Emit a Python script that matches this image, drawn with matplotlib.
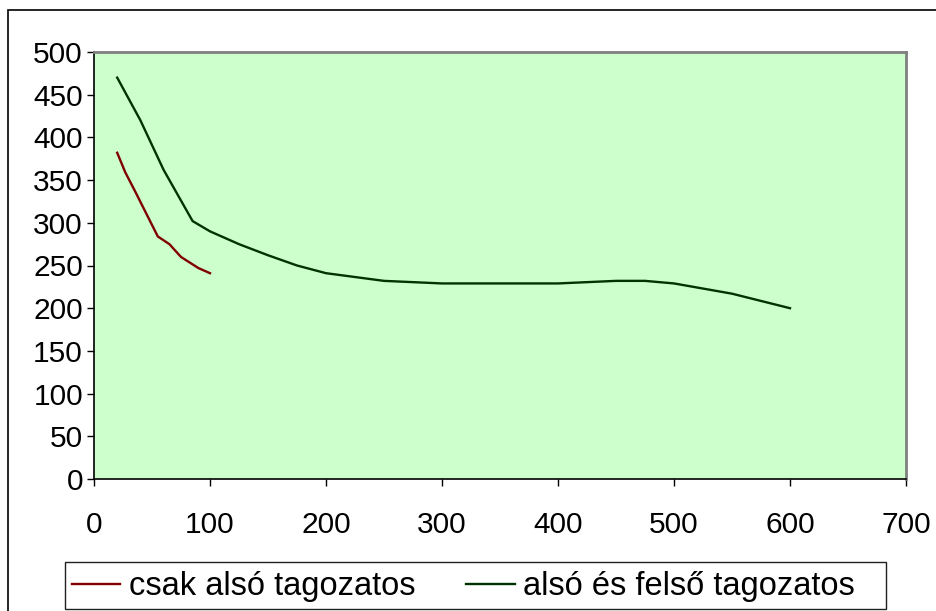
import matplotlib.pyplot as plt
from matplotlib.patches import Rectangle

plt.rcParams['font.family'] = ['Liberation Sans', 'DejaVu Sans']

# csak alsó tagozatos
red_x = [20, 27, 35, 55, 65, 75, 90, 100]
red_y = [382, 359, 338, 284, 275, 260, 247, 241]

# alsó és felső tagozatos
green_x = [20, 40, 60, 85, 100, 125, 150, 175, 200, 250, 300, 400, 450, 475, 500, 550, 600]
green_y = [470, 420, 362, 302, 290, 275, 262, 250, 241, 232, 229, 229, 232, 232, 229, 217, 200]

x_ticks = [0, 100, 200, 300, 400, 500, 600, 700]
y_ticks = [0, 50, 100, 150, 200, 250, 300, 350, 400, 450, 500]

fig = plt.figure(figsize=(9.36, 6.11), dpi=100)
ax = fig.add_axes([94/936, 1-479/611, 812/936, 427/611])
ax.set_facecolor('#CCFFCC')

ax.plot(red_x, red_y, color='#800000', lw=1.7, label='csak alsó tagozatos')
ax.plot(green_x, green_y, color='#003300', lw=1.7, label='alsó és felső tagozatos')

ax.set_xlim(0, 700)
ax.set_ylim(0, 500)
ax.set_xticks(x_ticks)
ax.set_yticks(y_ticks)
ax.tick_params(axis='both', direction='out', length=5, width=1, labelsize=21.5)
ax.tick_params(axis='x', pad=18)
ax.tick_params(axis='y', pad=3)

for s in ['top', 'right']:
    ax.spines[s].set_color('#808080')
    ax.spines[s].set_linewidth(2)
for s in ['left', 'bottom']:
    ax.spines[s].set_color('black')
    ax.spines[s].set_linewidth(1.2)

leg = fig.legend(loc='lower left', bbox_to_anchor=(65/936, 2/611), ncol=2,
                 fontsize=23.5, frameon=False, handlelength=1.5,
                 handletextpad=0.25, columnspacing=1.55, borderaxespad=0, borderpad=0.2)

# legend frame drawn separately (it is wider than the entries)
fig.add_artist(Rectangle((65/936, 1-609/611), 821/936, 47/611, transform=fig.transFigure,
                         fill=False, edgecolor='#202020', lw=1))

fig.add_artist(Rectangle((8/936, -0.1), 1.2, 1.1 - 10/611, transform=fig.transFigure,
                         fill=False, edgecolor='black', lw=1.2))

fig.savefig('out.png', dpi=100)
